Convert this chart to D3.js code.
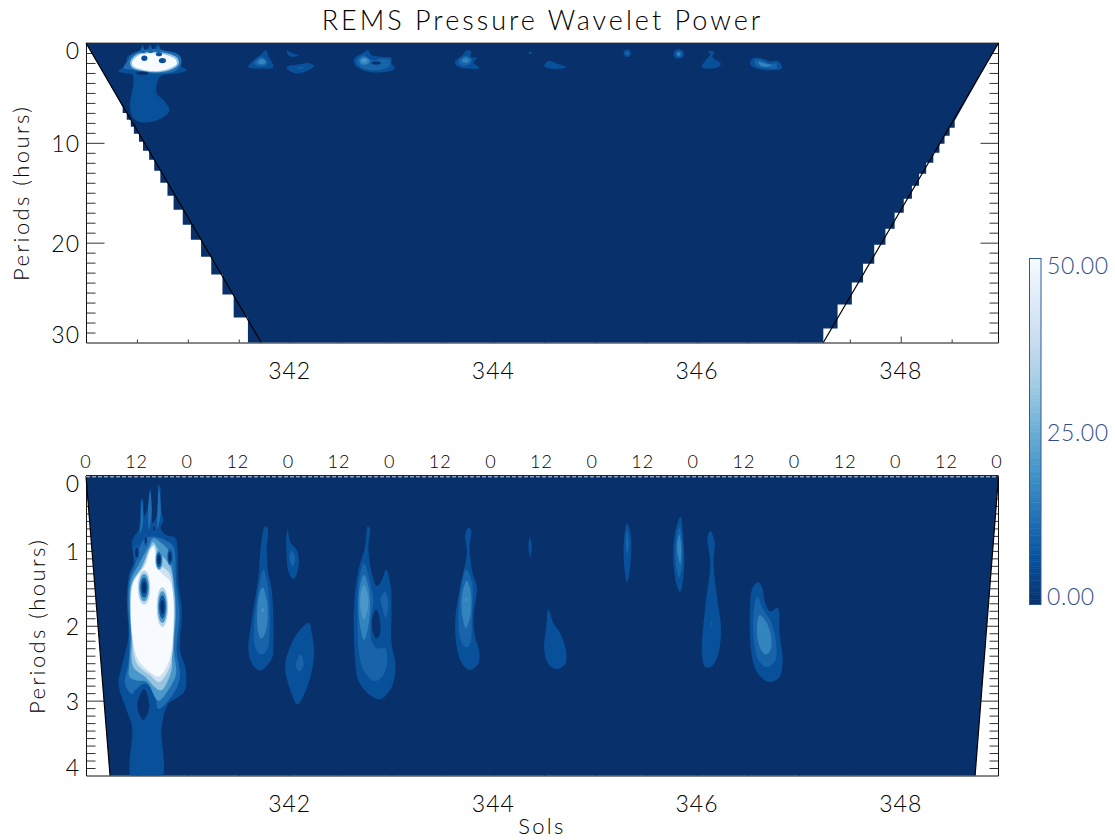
<!DOCTYPE html>
<html>
<head>
<meta charset="utf-8">
<script src="https://cdn.jsdelivr.net/npm/d3@7"></script>
<style>
  html, body { margin: 0; background: #fff; overflow: hidden; }
  text { font-family: Lato, "Liberation Sans", sans-serif; font-weight: 300; fill: #000; }
</style>
</head>
<body>
<script>
const solDomain = [340, 348.96];
const solMajor = [342, 344, 346, 348];
const solMinor = [340.5, 341, 341.5, 342.5, 343, 343.5, 344.5, 345, 345.5, 346.5, 347, 347.5, 348.5];
const hourLabels = [0, 12, 0, 12, 0, 12, 0, 12, 0, 12, 0, 12, 0, 12, 0, 12, 0, 12, 0];

const topLabels = [0, 10, 20, 30];
const lowerLabels = [0, 1, 2, 3, 4];

// colour table of the bar, 0 to 50
const blues = ["#08306b", "#08519c", "#2171b5", "#4292c6", "#6baed6", "#9ecae1", "#c6dbef", "#deebf7", "#f7fbff"];
const barLabels = [0, 25, 50];

// cone of influence, [sol, period]
const coiTopLeft = [[340, 0], [341.72, 30]];
const coiTopRight = [[348.96, 0], [347.24, 30]];
const coiLowLeft = [[340, 0], [340.236, 4]];
const coiLowRight = [[348.96, 0], [348.73, 4]];

// masked edge of the top image, it is stepped because the periods are log spaced
const leftRows = [30, 27.5, 25.2, 23.2, 21.4, 19.7, 18.2, 16.7, 15.3, 14, 12.8, 11.7, 10.8, 9.9, 9.1, 8.4, 7.7, 7, 6.4];
const leftEdge = [341.59, 341.45, 341.34, 341.23, 341.13, 341.03, 340.95, 340.86, 340.8, 340.73, 340.67, 340.62, 340.56, 340.52, 340.47, 340.44, 340.4, 340.36];
const rightRows = [30, 28.6, 26.2, 24, 22.1, 20.2, 18.6, 17, 15.6, 14.3, 13.1, 12, 11, 10.1, 9.3, 8.5, 7.8];
const rightEdge = [347.24, 347.38, 347.52, 347.63, 347.74, 347.85, 347.94, 348.03, 348.11, 348.18, 348.25, 348.32, 348.38, 348.43, 348.48, 348.53];

// power contours: [power level, [[sol, period], ...]]
const topContours = [
  [6, [[340.318,2.8],[340.393,2.2],[340.406,1.37],[340.53,.7],[340.557,.17],[340.58,.7],[340.635,.17],[340.655,.7],[340.71,.1],[340.743,.7],[340.884,.97],[340.94,1.7],[340.933,2.3],[340.99,2.7],[340.907,3.03],[340.727,3.37],[340.694,5.03],[340.76,5.7],[340.82,6.76],[340.71,7.69],[340.563,7.96],[340.465,7.53],[340.432,6.36],[340.465,4.03],[340.458,3.2],[340.383,3.03]]],
  [12, [[340.41,1.76],[340.47,1.03],[340.63,.62],[340.79,.8],[340.92,1.3],[340.935,2.03],[340.885,2.75],[340.727,3.06],[340.547,2.9],[340.44,2.66],[340.37,2.53]]],
  [30, [[340.435,1.86],[340.495,1.15],[340.63,.9],[340.79,1.02],[340.897,1.5],[340.91,2.1],[340.85,2.6],[340.71,2.92],[340.547,2.78],[340.448,2.42]]],
  [50, [[340.452,1.96],[340.51,1.28],[340.63,1.03],[340.78,1.17],[340.88,1.65],[340.89,2.1],[340.825,2.52],[340.7,2.82],[340.547,2.66],[340.465,2.34]]],
  [10, [[340.557,.4],[340.58,.95],[340.537,.95]]],
  [10, [[340.635,.4],[340.655,.95],[340.615,.95]]],
  [10, [[340.71,.35],[340.73,.9],[340.69,.9]]],
  [6, [[341.768,.73],[341.788,1.23],[341.84,2.4],[341.71,2.56],[341.595,2.4],[341.644,1.73],[341.71,1.23]]],
  [10, [[341.726,1.4],[341.78,1.83],[341.768,2.23],[341.693,2.3],[341.65,2.06],[341.677,1.63]]],
  [16, [[341.726,1.57],[341.768,1.9],[341.729,2.16],[341.683,1.96]]],
  [6, [[341.97,.73],[342.02,1],[342.086,1.23],[342.037,1.4],[341.988,1.23]]],
  [6, [[341.97,2.4],[342.086,2.16],[342.184,2],[342.24,2.3],[342.184,2.73],[342.07,3.06],[342.004,2.83]]],
  [10, [[342.07,2.5],[342.135,2.4],[342.12,2.56]]],
  [6, [[342.774,.73],[342.797,1.17],[342.92,1.4],[343,1.5],[343,2.06],[343.036,2.56],[342.888,2.96],[342.724,2.73],[342.643,2.23],[342.633,1.57],[342.708,1.07]]],
  [10, [[342.73,1.23],[342.806,1.73],[342.92,1.57],[342.986,1.73],[342.986,2.16],[342.953,2.5],[342.823,2.73],[342.708,2.5],[342.659,1.96],[342.675,1.5]]],
  [16, [[342.73,1.4],[342.783,1.73],[342.773,2.06],[342.708,2.16],[342.685,1.73]]],
  [20, [[342.73,1.57],[342.764,1.73],[342.73,1.96],[342.705,1.73]]],
  [6, [[343.74,.73],[343.78,.83],[343.78,1.4],[343.837,1.5],[343.805,1.96],[343.864,2.5],[343.74,2.56],[343.641,2.3],[343.625,1.83],[343.69,1.3]]],
  [10, [[343.73,1.3],[343.788,1.63],[343.772,2.06],[343.707,2.3],[343.657,1.96],[343.673,1.57]]],
  [16, [[343.73,1.47],[343.766,1.73],[343.733,2],[343.69,1.8]]],
  [6, [[344.345,.97],[344.365,.85],[344.38,1],[344.36,1.1]]],
  [6, [[344.541,1.8],[344.639,2.13],[344.715,2.4],[344.672,2.56],[344.557,2.56],[344.5,2.3]]],
  [6, [[346.113,.83],[346.172,.9],[346.152,1.4],[346.234,2.06],[346.211,2.4],[346.096,2.56],[346.047,2.4],[346.096,1.57],[346.129,1.23]]],
  [6, [[346.538,1.57],[346.62,1.5],[346.718,1.83],[346.8,1.83],[346.833,2.56],[346.718,2.73],[346.587,2.56],[346.522,2.16]]],
  [10, [[346.561,1.73],[346.62,1.67],[346.702,2.06],[346.777,2.06],[346.784,2.5],[346.686,2.5],[346.587,2.3]]],
  [16, [[346.604,1.9],[346.67,2.06],[346.735,2.23],[346.67,2.4],[346.62,2.23]]]
];

// small round features: [power level, sol, period, half width in sols, half height in hours]
const topSpots = [
  [0, 340.553, 3.03, .06, .17],
  [6, 340.573, 1.53, .03, .27],
  [6, 340.717, 1.13, .03, .2],
  [6, 340.75, 1.76, .035, .27],
  [0, 342.849, 2, .045, .17],
  [6, 345.314, 1.03, .036, .37],
  [10, 345.314, 1.03, .018, .2],
  [6, 345.82, 1.1, .052, .47],
  [10, 345.82, 1.1, .03, .3],
  [16, 345.82, 1.1, .016, .17]
];

const lowerContours = [
  [6, [[340.455,4.05],[340.452,3.35],[340.4,3.13],[340.318,2.77],[340.35,2.55],[340.416,2.15],[340.4,1.66],[340.426,1.3],[340.465,1.17],[340.455,.855],[340.52,.7],[340.54,.32],[340.557,.3],[340.57,.54],[340.61,.41],[340.63,.165],[340.645,.41],[340.655,.63],[340.7,.5],[340.71,.12],[340.727,.14],[340.734,.454],[340.76,.59],[340.734,.7],[340.79,.79],[340.874,.82],[340.897,.945],[340.907,1.43],[340.94,1.79],[340.925,2.33],[340.98,2.59],[340.973,2.86],[340.907,2.95],[340.81,3.04],[340.743,3.35],[340.737,4.05]]],
  [0, [[340.57,2.84],[340.622,3.08],[340.563,3.26],[340.504,3.08]]],
  [12, [[340.432,1.35],[340.48,1.19],[340.514,.99],[340.58,.83],[340.645,.81],[340.71,.82],[340.776,.855],[340.858,.945],[340.884,1.43],[340.917,1.84],[340.89,2.33],[340.923,2.68],[340.858,2.91],[340.71,3.11],[340.678,2.91],[340.58,2.77],[340.498,2.84],[340.449,2.91],[340.383,2.77],[340.416,2.5],[340.426,2.1],[340.41,1.66]]],
  [20, [[340.442,1.39],[340.514,1.19],[340.612,.945],[340.66,.83],[340.727,.88],[340.81,.99],[340.84,1.17],[340.864,1.43],[340.884,1.79],[340.864,2.33],[340.884,2.64],[340.825,2.82],[340.71,3],[340.596,2.75],[340.498,2.73],[340.426,2.68],[340.426,2.5],[340.442,2.15],[340.426,1.66]]],
  [30, [[340.452,1.43],[340.547,1.21],[340.63,.945],[340.66,.88],[340.727,1.03],[340.825,1.21],[340.864,1.52],[340.874,1.88],[340.84,2.33],[340.84,2.59],[340.743,2.86],[340.694,2.84],[340.58,2.68],[340.465,2.55],[340.449,2.15],[340.432,1.75]]],
  [40, [[340.458,1.43],[340.563,1.21],[340.63,.97],[340.668,.92],[340.72,1.17],[340.82,1.3],[340.851,1.61],[340.851,2.33],[340.81,2.59],[340.72,2.75],[340.63,2.66],[340.498,2.5],[340.452,2.15],[340.439,1.79]]],
  [50, [[340.465,1.43],[340.58,1.19],[340.63,.99],[340.66,.945],[340.72,1.26],[340.825,1.41],[340.858,1.61],[340.84,2.33],[340.79,2.55],[340.71,2.68],[340.63,2.62],[340.514,2.46],[340.458,2.15],[340.442,1.84]]],
  [12, [[340.628,.2],[340.645,.46],[340.62,.72],[340.607,.55]]],
  [12, [[340.717,.17],[340.734,.5],[340.7,.7],[340.7,.5]]],
  [12, [[340.55,.32],[340.56,.63],[340.53,.77],[340.537,.59]]],
  [6, [[341.762,.669],[341.785,.7],[341.775,.99],[341.79,1.3],[341.824,1.52],[341.84,2.24],[341.824,2.44],[341.71,2.6],[341.628,2.5],[341.595,2.33],[341.628,1.92],[341.693,1.35],[341.71,1.03],[341.742,.72]]],
  [10, [[341.742,1.25],[341.79,1.52],[341.8,2.15],[341.775,2.33],[341.71,2.38],[341.66,2.28],[341.65,2.01],[341.693,1.52]]],
  [16, [[341.736,1.49],[341.775,1.66],[341.78,1.97],[341.742,2.15],[341.716,2.17],[341.683,2.01],[341.683,1.79],[341.703,1.57]]],
  [20, [[341.736,1.76],[341.745,1.79],[341.736,1.83],[341.726,1.79]]],
  [6, [[341.981,.71],[342.004,.88],[342.07,.99],[342.09,1.12],[342.076,1.28],[342.037,1.38],[341.988,1.28],[341.97,1.03],[341.965,.855]]],
  [10, [[342.02,.99],[342.053,1.1],[342.03,1.21],[341.998,1.1]]],
  [6, [[342.19,1.96],[342.217,2.1],[342.24,2.37],[342.184,2.77],[342.076,3.05],[342.02,2.91],[341.955,2.55],[342.004,2.28],[342.086,2.08]]],
  [10, [[342.109,2.38],[342.138,2.53],[342.096,2.61],[342.06,2.53]]],
  [6, [[342.767,.67],[342.79,.7],[342.773,.945],[342.806,1.3],[342.855,1.47],[342.905,1.39],[342.947,1.25],[342.993,1.48],[343,1.79],[343,2.24],[343.04,2.53],[343,2.82],[342.888,2.98],[342.773,2.91],[342.675,2.73],[342.643,2.46],[342.633,1.7],[342.675,1.26],[342.74,.945]]],
  [10, [[342.73,1.17],[342.806,1.52],[342.823,1.66],[342.797,1.92],[342.806,2.21],[342.855,2.3],[342.937,2.3],[342.953,2.53],[342.905,2.68],[342.84,2.74],[342.757,2.66],[342.692,2.46],[342.665,1.79],[342.685,1.35]]],
  [16, [[342.73,1.32],[342.773,1.48],[342.79,1.75],[342.764,2.06],[342.73,2.19],[342.692,2.01],[342.675,1.7],[342.692,1.46]]],
  [20, [[342.73,1.46],[342.764,1.57],[342.77,1.75],[342.73,1.92],[342.698,1.79],[342.698,1.57]]],
  [10, [[342.937,1.55],[342.97,1.72],[342.944,1.89],[342.905,1.75],[342.895,1.64]]],
  [0, [[342.849,1.78],[342.888,1.95],[342.88,2.13],[342.849,2.17],[342.813,2.06],[342.813,1.9]]],
  [6, [[343.756,.69],[343.782,.72],[343.766,.945],[343.79,1.26],[343.838,1.5],[343.805,1.88],[343.82,2.15],[343.86,2.33],[343.854,2.5],[343.772,2.59],[343.69,2.5],[343.64,2.28],[343.625,1.92],[343.674,1.48],[343.74,1.03],[343.723,.77]]],
  [10, [[343.733,1.25],[343.79,1.41],[343.79,1.88],[343.772,2.24],[343.733,2.29],[343.674,2.17],[343.657,1.88],[343.69,1.43]]],
  [16, [[343.74,1.4],[343.78,1.57],[343.772,1.88],[343.73,2.03],[343.697,1.88],[343.69,1.61]]],
  [20, [[343.733,1.62],[343.743,1.65],[343.733,1.68],[343.723,1.65]]],
  [6, [[344.358,.81],[344.378,.945],[344.362,1.08],[344.345,.945]]],
  [6, [[344.54,1.78],[344.59,1.97],[344.656,2.1],[344.715,2.35],[344.705,2.51],[344.623,2.58],[344.54,2.51],[344.5,2.33],[344.52,2.01]]],
  [6, [[345.314,.633],[345.35,.81],[345.344,1.21],[345.314,1.42],[345.285,1.21],[345.285,.81]]],
  [10, [[345.314,.73],[345.33,.9],[345.314,1.04],[345.3,.9]]],
  [6, [[345.838,.54],[345.861,.77],[345.874,1.21],[345.835,1.55],[345.796,1.44],[345.766,1.08],[345.786,.74]]],
  [10, [[345.828,.68],[345.854,.9],[345.854,1.19],[345.822,1.36],[345.793,1.19],[345.793,.86]]],
  [16, [[345.825,.78],[345.845,.945],[345.835,1.17],[345.803,.97]]],
  [6, [[346.13,.73],[346.172,.88],[346.162,1.17],[346.195,1.61],[346.234,2.01],[346.21,2.37],[346.146,2.54],[346.08,2.55],[346.048,2.39],[346.08,1.75],[346.13,1.17],[346.103,.83]]],
  [10, [[346.143,1.94],[346.15,1.97],[346.143,2],[346.136,1.97]]],
  [6, [[346.598,1.42],[346.637,1.48],[346.67,1.7],[346.72,1.81],[346.79,1.76],[346.81,2.1],[346.84,2.5],[346.8,2.7],[346.7,2.75],[346.6,2.64],[346.54,2.42],[346.523,1.66],[346.55,1.48]]],
  [10, [[346.594,1.61],[346.637,1.75],[346.72,1.93],[346.768,2.15],[346.768,2.46],[346.686,2.55],[346.604,2.46],[346.555,2.15],[346.56,1.75]]],
  [16, [[346.614,1.86],[346.67,1.93],[346.726,2.13],[346.72,2.33],[346.67,2.38],[346.614,2.28],[346.588,2.06]]]
];

// dark spots inside the big burst: sol, period, half width, half height, power around the spot
const lowerSpots = [
  [340.57, 1.49, .036, .134, 50],
  [340.75, 1.75, .033, .156, 50],
  [340.717, 1.12, .026, .1, 30],
  [340.498, 1.02, .026, .11, 12],
  [340.825, 1.08, .026, .11, 14],
  [340.586, .855, .016, .08, 12],
  [340.668, .7, .016, .067, 12]
];
const spotRings = [[35, 1.7], [20, 1.35], [8, 1], [0, .6]];

const svg = d3.select("body").append("svg").attr("width", 1115).attr("height", 840);

const x = d3.scaleLinear().domain(solDomain).range([86, 998.5]);
const yTop = d3.scaleLinear().domain([0, 30]).range([43, 342.5]);
const yLow = d3.scaleLinear().domain([0, 4]).range([476, 775.5]);
const hours = d3.scaleLinear().domain([0, hourLabels.length - 1]).range([86, 997]);

const color = d3.scaleLinear().domain(blues.map((c, i) => i * 50 / (blues.length - 1))).range(blues);

function drawTicks(g, y, major, minor) {
  // everything points inward, the image is drawn on top later
  const [y0, y1] = y.range();
  g.append("g").attr("transform", `translate(86.5,0)`).call(d3.axisRight(y).tickValues(minor).tickSize(9).tickFormat(""));
  g.append("g").attr("transform", `translate(86.5,0)`).call(d3.axisRight(y).tickValues(major).tickSize(18).tickFormat(""));
  g.append("g").attr("transform", `translate(998.5,0)`).call(d3.axisLeft(y).tickValues(minor).tickSize(9).tickFormat(""));
  g.append("g").attr("transform", `translate(998.5,0)`).call(d3.axisLeft(y).tickValues(major).tickSize(18).tickFormat(""));
  g.append("g").attr("transform", `translate(0,${y1})`).call(d3.axisTop(x).tickValues(solMinor).tickSize(3).tickFormat(""));
  g.append("g").attr("transform", `translate(0,${y1})`).call(d3.axisTop(x).tickValues(solMajor).tickSize(6).tickFormat(""));
  g.selectAll(".domain").remove();
  g.selectAll(".tick line").attr("stroke", "#333");
  g.append("path")
    .attr("d", `M86.5,${y0}V${y1 + .5}H998.5V${y0}`)
    .attr("fill", "none").attr("stroke", "#111");
}

function drawLabels(g, y, values, title, titleX) {
  const [y0, y1] = y.range();
  g.selectAll(".ylab").data(values).enter().append("text")
    .attr("class", "ylab")
    .attr("x", 80).attr("text-anchor", "end")
    .attr("y", (d, i) => i == 0 ? y(d) + 15.5 : i == values.length - 1 ? y(d) : y(d) + 9)
    .style("font-size", "23px").style("letter-spacing", "1px")
    .text(d => d);
  g.selectAll(".xlab").data(solMajor).enter().append("text")
    .attr("class", "xlab")
    .attr("x", d => x(d)).attr("y", y1 + 36).attr("text-anchor", "middle")
    .style("font-size", "23px").style("letter-spacing", "1px")
    .text(d => d);
  g.append("text")
    .attr("transform", `translate(${titleX},${(y0 + y1) / 2}) rotate(-90)`)
    .attr("text-anchor", "middle")
    .style("font-size", "22px").style("letter-spacing", "2.4px")
    .text(title);
}

function drawImage(g, y, outline, contours, clipId) {
  const toPath = d3.line().x(d => x(d[0])).y(d => y(d[1]));
  const smooth = d3.line().x(d => x(d[0])).y(d => y(d[1])).curve(d3.curveCatmullRomClosed.alpha(.5));
  g.append("clipPath").attr("id", clipId).append("path").attr("d", toPath(outline) + "Z");
  g.append("path").attr("d", toPath(outline) + "Z").attr("fill", blues[0]);
  const inner = g.append("g").attr("clip-path", `url(#${clipId})`);
  inner.selectAll("path").data(contours).enter().append("path")
    .attr("d", d => smooth(d[1]))
    .attr("fill", d => color(d[0]));
  return inner;
}

function drawEllipses(g, y, data) {
  g.selectAll("ellipse").data(data).enter().append("ellipse")
    .attr("cx", d => x(d[1])).attr("cy", d => y(d[2]))
    .attr("rx", d => x(d[1] + d[3]) - x(d[1]))
    .attr("ry", d => y(d[2] + d[4]) - y(d[2]))
    .attr("fill", d => color(d[0]));
}

function drawCoi(g, y, line) {
  g.append("path")
    .attr("d", d3.line().x(d => x(d[0])).y(d => y(d[1]))(line))
    .attr("fill", "none").attr("stroke", "#000").attr("stroke-width", 1.2);
}

// top panel
const topPanel = svg.append("g");
drawTicks(topPanel, yTop, [10, 20], d3.range(1, 30).filter(d => d % 10));
topPanel.append("line").attr("x1", 86).attr("x2", 999).attr("y1", 42.5).attr("y2", 42.5).attr("stroke", "#aaa");

const topOutline = [[340, 0], [348.96, 0]];
for (let i = rightEdge.length - 1; i >= 0; i--) {
  topOutline.push([rightEdge[i], rightRows[i + 1]], [rightEdge[i], rightRows[i]]);
}
leftEdge.forEach((s, i) => topOutline.push([s, leftRows[i]], [s, leftRows[i + 1]]));

const topInner = drawImage(topPanel, yTop, topOutline, topContours, "clipTop");
drawEllipses(topInner, yTop, topSpots);
drawCoi(topPanel, yTop, coiTopLeft);
drawCoi(topPanel, yTop, coiTopRight);
drawLabels(topPanel, yTop, topLabels, "Periods (hours)", 29);

// lower panel
const lowPanel = svg.append("g");
drawTicks(lowPanel, yLow, [1, 2, 3], d3.range(.1, 4, .1).filter(d => Math.abs(d - Math.round(d)) > .01));

const lowOutline = [coiLowLeft[0], coiLowRight[0], coiLowRight[1], coiLowLeft[1]];
const lowInner = drawImage(lowPanel, yLow, lowOutline, lowerContours, "clipLow");
// only rings darker than the surroundings of a spot are drawn, or it gets a bright halo
const spotData = lowerSpots.flatMap(s => spotRings.filter(r => r[0] < s[4]).map(r => [r[0], s[0], s[1], s[2] * r[1], s[3] * r[1]]));
drawEllipses(lowInner.append("g"), yLow, spotData);
drawCoi(lowPanel, yLow, coiLowLeft);
drawCoi(lowPanel, yLow, coiLowRight);

lowPanel.append("line").attr("x1", 86).attr("x2", 998.5).attr("y1", 475.5).attr("y2", 475.5).attr("stroke", "#222");
lowPanel.append("line").attr("x1", 86).attr("x2", 998.5).attr("y1", 476.8).attr("y2", 476.8)
  .attr("stroke", "#fff").attr("stroke-opacity", .8).attr("stroke-dasharray", "4 2");

lowPanel.selectAll(".hour").data(hourLabels).enter().append("text")
  .attr("class", "hour")
  .attr("x", (d, i) => hours(i)).attr("y", 468).attr("text-anchor", "middle")
  .style("font-size", "18px").style("letter-spacing", "1px")
  .text(d => d);
drawLabels(lowPanel, yLow, lowerLabels, "Periods (hours)", 45);

svg.append("text")
  .attr("x", 542.5).attr("y", 30).attr("text-anchor", "middle")
  .style("font-size", "27px").style("letter-spacing", "3px")
  .text("REMS Pressure Wavelet Power");
svg.append("text")
  .attr("x", 542).attr("y", 834).attr("text-anchor", "middle")
  .style("font-size", "22px").style("letter-spacing", "2.4px")
  .text("Sols");

// colour bar
const barY = d3.scaleLinear().domain([0, 50]).range([604.5, 258]);
const bar = svg.append("g");
bar.selectAll("rect").data(d3.range(0, 50, .25)).enter().append("rect")
  .attr("x", 1029).attr("width", 12)
  .attr("y", d => barY(d + .25)).attr("height", d => barY(d) - barY(d + .25) + .5)
  .attr("fill", d => color(d));
bar.append("rect")
  .attr("x", 1029.5).attr("y", 258.5).attr("width", 11.5).attr("height", 346)
  .attr("fill", "none").attr("stroke", "#2f5a94");
bar.selectAll("text").data(barLabels).enter().append("text")
  .attr("x", 1047)
  .attr("y", d => d == 50 ? barY(d) + 16 : d == 0 ? barY(d) - 0 : barY(d) + 10)
  .style("font-size", "23px").style("letter-spacing", ".6px").style("fill", "#2f4f8c")
  .text(d => d3.format(".2f")(d));
</script>
</body>
</html>
